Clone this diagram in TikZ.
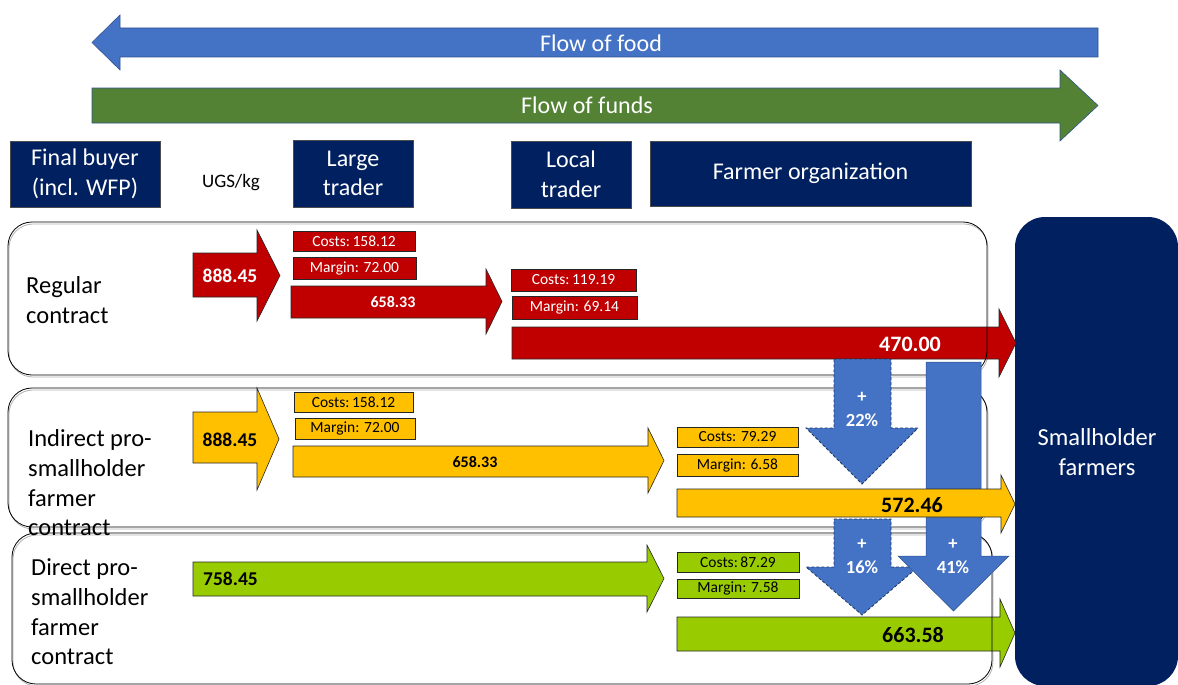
\documentclass[tikz,border=0pt]{standalone}
\usepackage{fontspec}
\setmainfont{Carlito}
\definecolor{navy}{HTML}{002060}
\definecolor{cred}{HTML}{C00000}
\definecolor{cyel}{HTML}{FFC000}
\definecolor{cgrn}{HTML}{99CC00}
\definecolor{cblue}{HTML}{4472C4}
\definecolor{cbord}{HTML}{2F528F}
\definecolor{cfund}{HTML}{548235}
% right-pointing block arrow: fill, x1, ytop, ybot, xbase, headtop, headbot, xtip
\newcommand\RArr[8]{\filldraw[fill=#1, draw=black!85, line width=0.6pt]
  (#2,#3) -- (#5,#3) -- (#5,#6) -- (#8,{(#6+#7)/2}) -- (#5,#7) -- (#5,#4) -- (#2,#4) -- cycle;}
% down-pointing block arrow: style, xl, xr, ytop, ybase, headleft, headright, ytip
\newcommand\DArr[8]{\filldraw[#1]
  (#2,#4) -- (#3,#4) -- (#3,#5) -- (#7,#5) -- ({(#6+#7)/2},#8) -- (#6,#5) -- (#2,#5) -- cycle;}
\begin{document}
\begin{tikzpicture}[x=1pt,y=-1pt,
  hdr/.style={fill=navy, draw=black!70, line width=0.4pt, text=white, align=center, inner sep=0pt,
    font=\fontsize{24}{29.5}\selectfont},
  lbl/.style={font=\fontsize{24.5}{29.7}\selectfont, align=left, anchor=west, inner sep=0pt},
  cbox/.style={draw=black!85, line width=0.6pt, inner sep=0pt, font=\fontsize{15.5}{18}\selectfont},
  numA/.style={font=\bfseries\fontsize{19.5}{22}\selectfont, inner sep=0pt},
  numB/.style={font=\bfseries\fontsize{16}{19}\selectfont, inner sep=0pt},
  numC/.style={font=\bfseries\fontsize{22}{26}\selectfont, inner sep=0pt},
  pct/.style={text=white, align=center, inner sep=0pt, font=\bfseries\fontsize{18.5}{24}\selectfont},
  frame/.style={draw=black, line width=0.8pt, rounded corners=24pt},
  fshadow/.style={draw=black!30, line width=0.8pt, rounded corners=24pt},
  dashblue/.style={fill=cblue, draw=cbord!70!black, line width=0.8pt, dash pattern=on 3pt off 2pt},
  solidblue/.style={fill=cblue, draw=cbord, line width=0.5pt},
  flowtxt/.style={text=white, inner sep=0pt, font=\fontsize{24}{29}\selectfont}]
\useasboundingbox (0,0) rectangle (1178,685);
\clip (0,0) rectangle (1178,685);

% smallholder farmers block
\fill[navy, rounded corners=30pt] (1015,217) rectangle (1178,686);
\node[text=white, align=center, inner sep=0pt, font=\fontsize{24.5}{29.5}\selectfont] (sf) at (1097,452) {Smallholder\\farmers};

% flows
\filldraw[fill=cblue, draw=cbord, line width=0.6pt]
  (1098,28) -- (120,28) -- (120,15) -- (92,42.5) -- (120,70) -- (120,57) -- (1098,57) -- cycle;
\node[flowtxt] (food) at (601,43) {Flow of food};
\filldraw[fill=cfund, draw=cbord, line width=0.6pt]
  (92,88) -- (1060,88) -- (1060,70) -- (1098,105.5) -- (1060,141) -- (1060,123) -- (92,123) -- cycle;
\node[flowtxt] (funds) at (587,105) {Flow of funds};

% headers
\node[hdr, minimum width=150pt, minimum height=66pt] (fb) at (85,174) {Final buyer\\(incl. WFP)};
\node[inner sep=0pt, font=\fontsize{19}{22}\selectfont] (ugs) at (231,183) {UGS/kg};
\node[hdr, minimum width=120pt, minimum height=67pt] (lt) at (353,173.5) {Large\\trader};
\node[hdr, minimum width=120pt, minimum height=67pt] (loc) at (571,174.5) {Local\\trader};
\node[hdr, minimum width=321pt, minimum height=65pt] (fo) at (810.5,173.5) {Farmer organization};

% frame shadows
\draw[fshadow] (9,224) rectangle (988,377);
\draw[fshadow] (9,390) rectangle (988,529);
\draw[fshadow] (13,535) rectangle (993,686);

% red chain
\RArr{cred}{193}{253}{297}{257}{230}{321}{280}
\RArr{cred}{291}{286}{318}{486}{269}{334}{502}
\RArr{cred}{512}{327}{359}{999}{309}{377}{1016}
% yellow chain (first two)
\RArr{cyel}{193}{412}{463}{257}{388}{490}{279}
\RArr{cyel}{293}{446}{477}{648}{428}{493}{664}
% green chain
\RArr{cgrn}{193}{562}{596}{647}{545}{612}{664}
\RArr{cgrn}{677}{617}{651}{1000}{599}{667}{1015}

% frames
\draw[frame] (8,222) rectangle (987,375);
\draw[frame] (8,388) rectangle (987,527);
\draw[frame] (12,533) rectangle (992,684);

% row labels
\node[lbl] (lreg) at (26,300) {Regular\\contract};
\node[lbl] (lind) at (28,483) {Indirect pro-\\smallholder\\farmer\\contract};
\node[lbl] (ldir) at (31,612) {Direct pro-\\smallholder\\farmer\\contract};

% cost / margin boxes
\node[cbox, fill=cred, text=white, minimum width=122pt, minimum height=20pt] (rc1) at (354,241) {Costs:\,158.12};
\node[cbox, fill=cred, text=white, minimum width=123pt, minimum height=22pt] (rm1) at (354.5,268) {Margin: 72.00};
\node[cbox, fill=cred, text=white, minimum width=125pt, minimum height=22pt] (rc2) at (573.5,280) {Costs:\,119.19};
\node[cbox, fill=cred, text=white, minimum width=125pt, minimum height=23pt] (rm2) at (574.5,307.5) {Margin: 69.14};
\node[cbox, fill=cyel, minimum width=119pt, minimum height=20pt] (yc1) at (353.5,402) {Costs:\,158.12};
\node[cbox, fill=cyel, minimum width=120pt, minimum height=21pt] (ym1) at (355,428.5) {Margin: 72.00};
\node[cbox, fill=cyel, minimum width=121pt, minimum height=20pt] (yc2) at (737.5,437) {Costs: 79.29};
\node[cbox, fill=cyel, minimum width=121pt, minimum height=22pt] (ym2) at (737.5,465) {Margin: 6.58};
\node[cbox, fill=cgrn, minimum width=122pt, minimum height=20pt] (gc2) at (738,562) {Costs:\,87.29};
\node[cbox, fill=cgrn, minimum width=122pt, minimum height=19pt] (gm2) at (738,588.5) {Margin: 7.58};

% arrow values
\node[numA, text=white] (r888) at (230,276) {888.45};
\node[numB, text=white] (r658) at (393,302) {658.33};
\node[numC, text=white] (r470) at (910,344) {470.00};
\node[numA] (y888) at (230,440) {888.45};
\node[numB] (y658) at (475,462) {658.33};
\node[numA, anchor=west] (g758) at (203,579) {758.45};
\node[numC] (g663) at (913,635) {663.58};

% blue uplift arrows
\DArr{dashblue}{834}{891}{359}{428}{806}{918}{484}
\DArr{dashblue}{834}{891}{519}{567}{806}{918}{615}
\DArr{solidblue}{926}{981}{362}{556}{898}{1009}{611}
\node[pct] (p22) at (862,409) {+\\22\%};
\node[pct] (p16) at (862,556) {+\\16\%};
\node[pct] (p41) at (953,556) {+\\41\%};

% yellow last arrow (on top of the 41% shaft)
\RArr{cyel}{677}{489}{517}{1001}{475}{533}{1015}
\node[numC] (y572) at (912,505) {572.46};
\end{tikzpicture}
\end{document}
